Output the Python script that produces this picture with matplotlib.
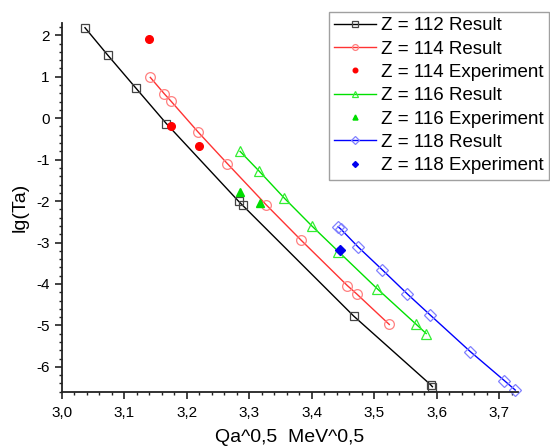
import matplotlib
matplotlib.use("Agg")
import matplotlib.pyplot as plt
from matplotlib.ticker import MultipleLocator, FuncFormatter

plt.rcParams['font.family'] = ['Liberation Sans', 'DejaVu Sans']
plt.rcParams['axes.unicode_minus'] = False

# Z = 112 calculated
x112 = [3.0368, 3.0732, 3.118, 3.167, 3.283, 3.2894, 3.467, 3.590, 3.593]
y112 = [2.184, 1.523, 0.732, -0.129, -2.009, -2.106, -4.775, -6.43, -6.48]

# Z = 114 calculated / experiment
x114 = [3.1414, 3.1639, 3.175, 3.2178, 3.2648, 3.3268, 3.3823, 3.457, 3.472, 3.524]
y114 = [0.984, 0.587, 0.403, -0.332, -1.097, -2.089, -2.936, -4.042, -4.243, -4.978]
x114e = [3.1398, 3.1746, 3.219]
y114e = [1.903, -0.195, -0.662]

# Z = 116 calculated / experiment
x116 = [3.2851, 3.316, 3.356, 3.4005, 3.4426, 3.505, 3.5666, 3.583]
y116 = [-0.80, -1.283, -1.93, -2.607, -3.219, -4.12, -4.968, -5.196]
x116e = [3.2851, 3.317]
y116e = [-1.784, -2.04]

# Z = 118 calculated / experiment
x118 = [3.4420, 3.4460, 3.4746, 3.513, 3.553, 3.5895, 3.6535, 3.708, 3.7256]
y118 = [-2.62, -2.67, -3.115, -3.662, -4.243, -4.75, -5.63, -6.33, -6.56]
x118e = [3.4453]
y118e = [-3.17]

fig = plt.figure(figsize=(5.5, 4.47), dpi=100)
ax = fig.add_axes([0.1127, 0.1237, 0.8291, 0.8251])

lw = 1.0
ax.plot(x112, y112, '-', color='black', lw=lw, marker='s', ms=6.3, mfc='none',
        mec='#444444', mew=0.9, label='Z = 112 Result', clip_on=False)
ax.plot(x114, y114, '-', color='#ff3333', lw=lw, marker='o', ms=7, mfc='none',
        mec='#ff8080', mew=0.9, label='Z = 114 Result', clip_on=False)
ax.plot(x114e, y114e, 'o', color='#ff0000', ms=5.5, mec='#ff0000',
        label='Z = 114 Experiment', clip_on=False)
ax.plot(x116, y116, '-', color='#00e000', lw=lw, marker='^', ms=7.5, mfc='none',
        mec='#33ee33', mew=0.9, label='Z = 116 Result', clip_on=False)
ax.plot(x116e, y116e, '^', color='#00dd00', ms=6, mec='#00dd00',
        label='Z = 116 Experiment', clip_on=False)
ax.plot(x118, y118, '-', color='#0000ff', lw=lw, marker='D', ms=6.5, mfc='none',
        mec='#8080ff', mew=0.9, label='Z = 118 Result', clip_on=False)
ax.plot(x118e, y118e, 'D', color='#0000ee', ms=5, mec='#0000ee',
        label='Z = 118 Experiment', clip_on=False)

ax.set_xlim(3.0, 3.73)
ax.set_ylim(-6.6, 2.3)

ax.xaxis.set_major_locator(MultipleLocator(0.1))
ax.xaxis.set_minor_locator(MultipleLocator(0.02))
ax.yaxis.set_major_locator(MultipleLocator(1))
ax.yaxis.set_minor_locator(MultipleLocator(0.2))
ax.xaxis.set_major_formatter(FuncFormatter(lambda v, p: f"{v:.1f}".replace('.', ',')))
ax.yaxis.set_major_formatter(FuncFormatter(lambda v, p: f"{int(round(v))}"))

for side in ('top', 'right'):
    ax.spines[side].set_visible(False)
for side in ('left', 'bottom'):
    ax.spines[side].set_linewidth(1.3)
    ax.spines[side].set_color('#222222')

ax.tick_params(which='major', direction='out', length=5, width=1.2,
               labelsize=11, color='#222222')
ax.tick_params(axis='x', which='major', pad=5)
ax.tick_params(axis='y', which='major', pad=4)
ax.tick_params(which='minor', direction='out', length=2.5, width=1.0,
               color='#222222')

ax.set_xlabel('Qa^0,5  MeV^0,5', fontsize=14, labelpad=6.5)
ax.set_ylabel('lg(Ta)', fontsize=14, labelpad=5)

leg = fig.legend(loc='upper right', bbox_to_anchor=(0.999, 0.974),
                 fontsize=13.5, frameon=True, fancybox=False, borderaxespad=0,
                 handlelength=2.2, handletextpad=0.3, labelspacing=0.33,
                 borderpad=0.3, markerscale=0.6)
leg.get_frame().set_edgecolor('#888888')
leg.get_frame().set_linewidth(1.0)

fig.savefig('out.png', dpi=100, facecolor='white')
